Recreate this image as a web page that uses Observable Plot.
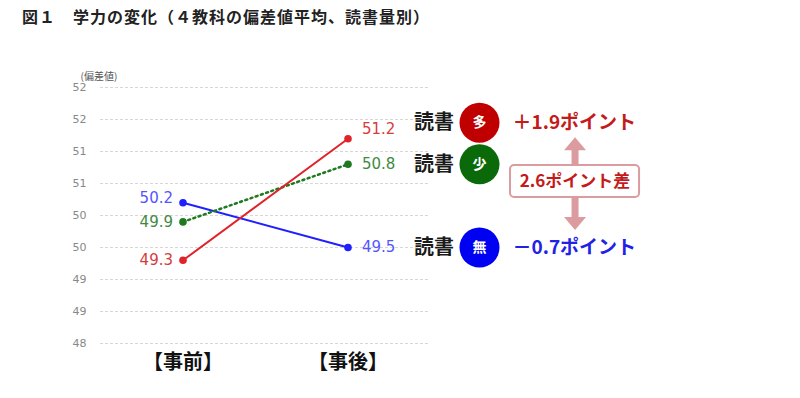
<!DOCTYPE html>
<html><head><meta charset="utf-8">
<script src="https://cdn.jsdelivr.net/npm/d3@7"></script>
<script src="https://cdn.jsdelivr.net/npm/@observablehq/plot@0.6"></script>
<style>
body{margin:0;background:#fff;font-family:"Noto Sans CJK JP",sans-serif;}
#title{height:40px;line-height:32px;padding-left:22px;font-size:16px;font-weight:bold;letter-spacing:1px;color:#222;white-space:nowrap;}
</style></head><body>
<div id="title">図１　学力の変化（４教科の偏差値平均、読書量別）</div>
<div id="chart"></div>
<script>
// ---- data ----
const phases = ["【事前】", "【事後】"];
const groups = ["多", "少", "無"];
const beforeValues = [49.3, 49.9, 50.2];
const afterValues = [51.2, 50.8, 49.5];
const rowLabel = "読書";
const changeLabels = ["＋1.9ポイント", "", "－0.7ポイント"];
const gapLabel = "2.6ポイント差";
const yTicks = [48, 48.5, 49, 49.5, 50, 50.5, 51, 51.5, 52];
const yUnit = "(偏差値)";
// annotation placement (data units)
const badgeRowY = [51.45, 50.8, 49.5];
const annX = {rowLabel: 1.521, badge: 1.797, change: 1.997, arrow: 2.376, boxL: 1.985, boxR: 2.767};
const arrowSpan = {tip1: 51.12, base1: 51.02, base2: 49.95, tip2: 49.875, boxTop: 50.78, boxBottom: 50.28};

// ---- styles ----
const lineColor = {"多": "#e0232b", "少": "#1f7a1f", "無": "#1f1fff"};
const labelColor = {"多": "#d63c3c", "少": "#3f8a3f", "無": "#5555ff"};
const badgeColor = {"多": "#c00000", "少": "#0a6a0a", "無": "#0000f2"};
const changeColor = {"多": "#c41a1a", "少": "#000", "無": "#2222e6"};
const arrowColor = "#dc9c9f";
const JP = "'Noto Sans CJK JP', sans-serif";
const NUM = "'DejaVu Sans', sans-serif";

const table = [];
groups.forEach((g, i) => {
  table.push({g, x: 0, v: beforeValues[i]});
  table.push({g, x: 1, v: afterValues[i]});
});
const labelNudge = {"多-1": -10, "無-0": -5};

const headUp = {draw(ctx) { ctx.moveTo(0, -6.5); ctx.lineTo(11, 6.5); ctx.lineTo(-11, 6.5); ctx.closePath(); }};
const headDown = {draw(ctx) { ctx.moveTo(0, 6.5); ctx.lineTo(11, -6.5); ctx.lineTo(-11, -6.5); ctx.closePath(); }};

const marks = [
  Plot.ruleY(yTicks, {stroke: "#d6d6d6", strokeDasharray: "3,2", strokeWidth: 1}),
  Plot.axisY({ticks: yTicks, tickFormat: d => Math.round(d), tickSize: 0, tickPadding: 14, fontSize: 11, fill: "#888", label: null, fontFamily: NUM}),
  Plot.text([yUnit], {frameAnchor: "top-left", dx: -20, dy: -15, fontSize: 10, fill: "#555", fontFamily: JP}),
  Plot.text(phases, {x: (d, i) => i, frameAnchor: "bottom", dy: 25, fontSize: 20, fontWeight: "bold", fill: "#111", fontFamily: JP})
];
// lines: blue, green (dotted), red on top
["無", "少", "多"].forEach(g => {
  const rows = table.filter(d => d.g === g);
  marks.push(Plot.line(rows, {x: "x", y: "v", stroke: lineColor[g], strokeWidth: g === "少" ? 2.5 : 2,
    strokeDasharray: g === "少" ? "2,3.5" : null}));
  marks.push(Plot.dot(rows, {x: "x", y: "v", r: 3.8, fill: lineColor[g], stroke: "none"}));
});
// value labels
table.forEach(d => {
  const nudge = labelNudge[`${d.g}-${d.x}`] || 0;
  marks.push(Plot.text([d], {x: "x", y: "v", text: r => r.v.toFixed(1),
    textAnchor: d.x === 0 ? "end" : "start", dx: d.x === 0 ? -10 : 14, dy: nudge,
    fill: labelColor[d.g], fontSize: 15, fontFamily: NUM}));
});
// annotation rows
groups.forEach((g, i) => {
  marks.push(Plot.text([rowLabel], {x: annX.rowLabel, y: badgeRowY[i], fontSize: 20, fontWeight: "bold", fill: "#1a1a1a", fontFamily: JP}));
  marks.push(Plot.dot([g], {x: annX.badge, y: badgeRowY[i], r: 20, fill: badgeColor[g], stroke: "none"}));
  marks.push(Plot.text([g], {x: annX.badge, y: badgeRowY[i], fontSize: 14, fontWeight: "bold", fill: "#fff", fontFamily: JP}));
  if (changeLabels[i]) marks.push(Plot.text([changeLabels[i]], {x: annX.change, y: badgeRowY[i], textAnchor: "start",
    fontSize: 19, fontWeight: "bold", fill: changeColor[g], fontFamily: JP}));
});
// gap arrow
marks.push(Plot.ruleX([annX.arrow], {y1: arrowSpan.base1, y2: arrowSpan.base2, stroke: arrowColor, strokeWidth: 7}));
marks.push(Plot.dot([0], {x: annX.arrow, y: arrowSpan.tip1, symbol: headUp, fill: arrowColor, stroke: "none"}));
marks.push(Plot.dot([0], {x: annX.arrow, y: arrowSpan.tip2, symbol: headDown, fill: arrowColor, stroke: "none"}));
marks.push(Plot.rect([0], {x1: annX.boxL, x2: annX.boxR, y1: arrowSpan.boxBottom, y2: arrowSpan.boxTop, rx: 4,
  fill: "#fff", stroke: arrowColor, strokeWidth: 2}));
marks.push(Plot.text([gapLabel], {x: (annX.boxL + annX.boxR) / 2, y: (arrowSpan.boxTop + arrowSpan.boxBottom) / 2,
  fontSize: 17, fontWeight: "bold", fill: "#c41a1a", fontFamily: JP}));

const chart = Plot.plot({
  width: 800, height: 358,
  marginLeft: 100, marginRight: 370, marginTop: 47, marginBottom: 55,
  x: {type: "linear", domain: [-0.5, 1.5], axis: null},
  y: {domain: [48, 52], axis: null},
  style: {fontFamily: NUM, background: "#fff", overflow: "visible"},
  marks
});
document.getElementById("chart").appendChild(chart);
</script>
</body></html>
